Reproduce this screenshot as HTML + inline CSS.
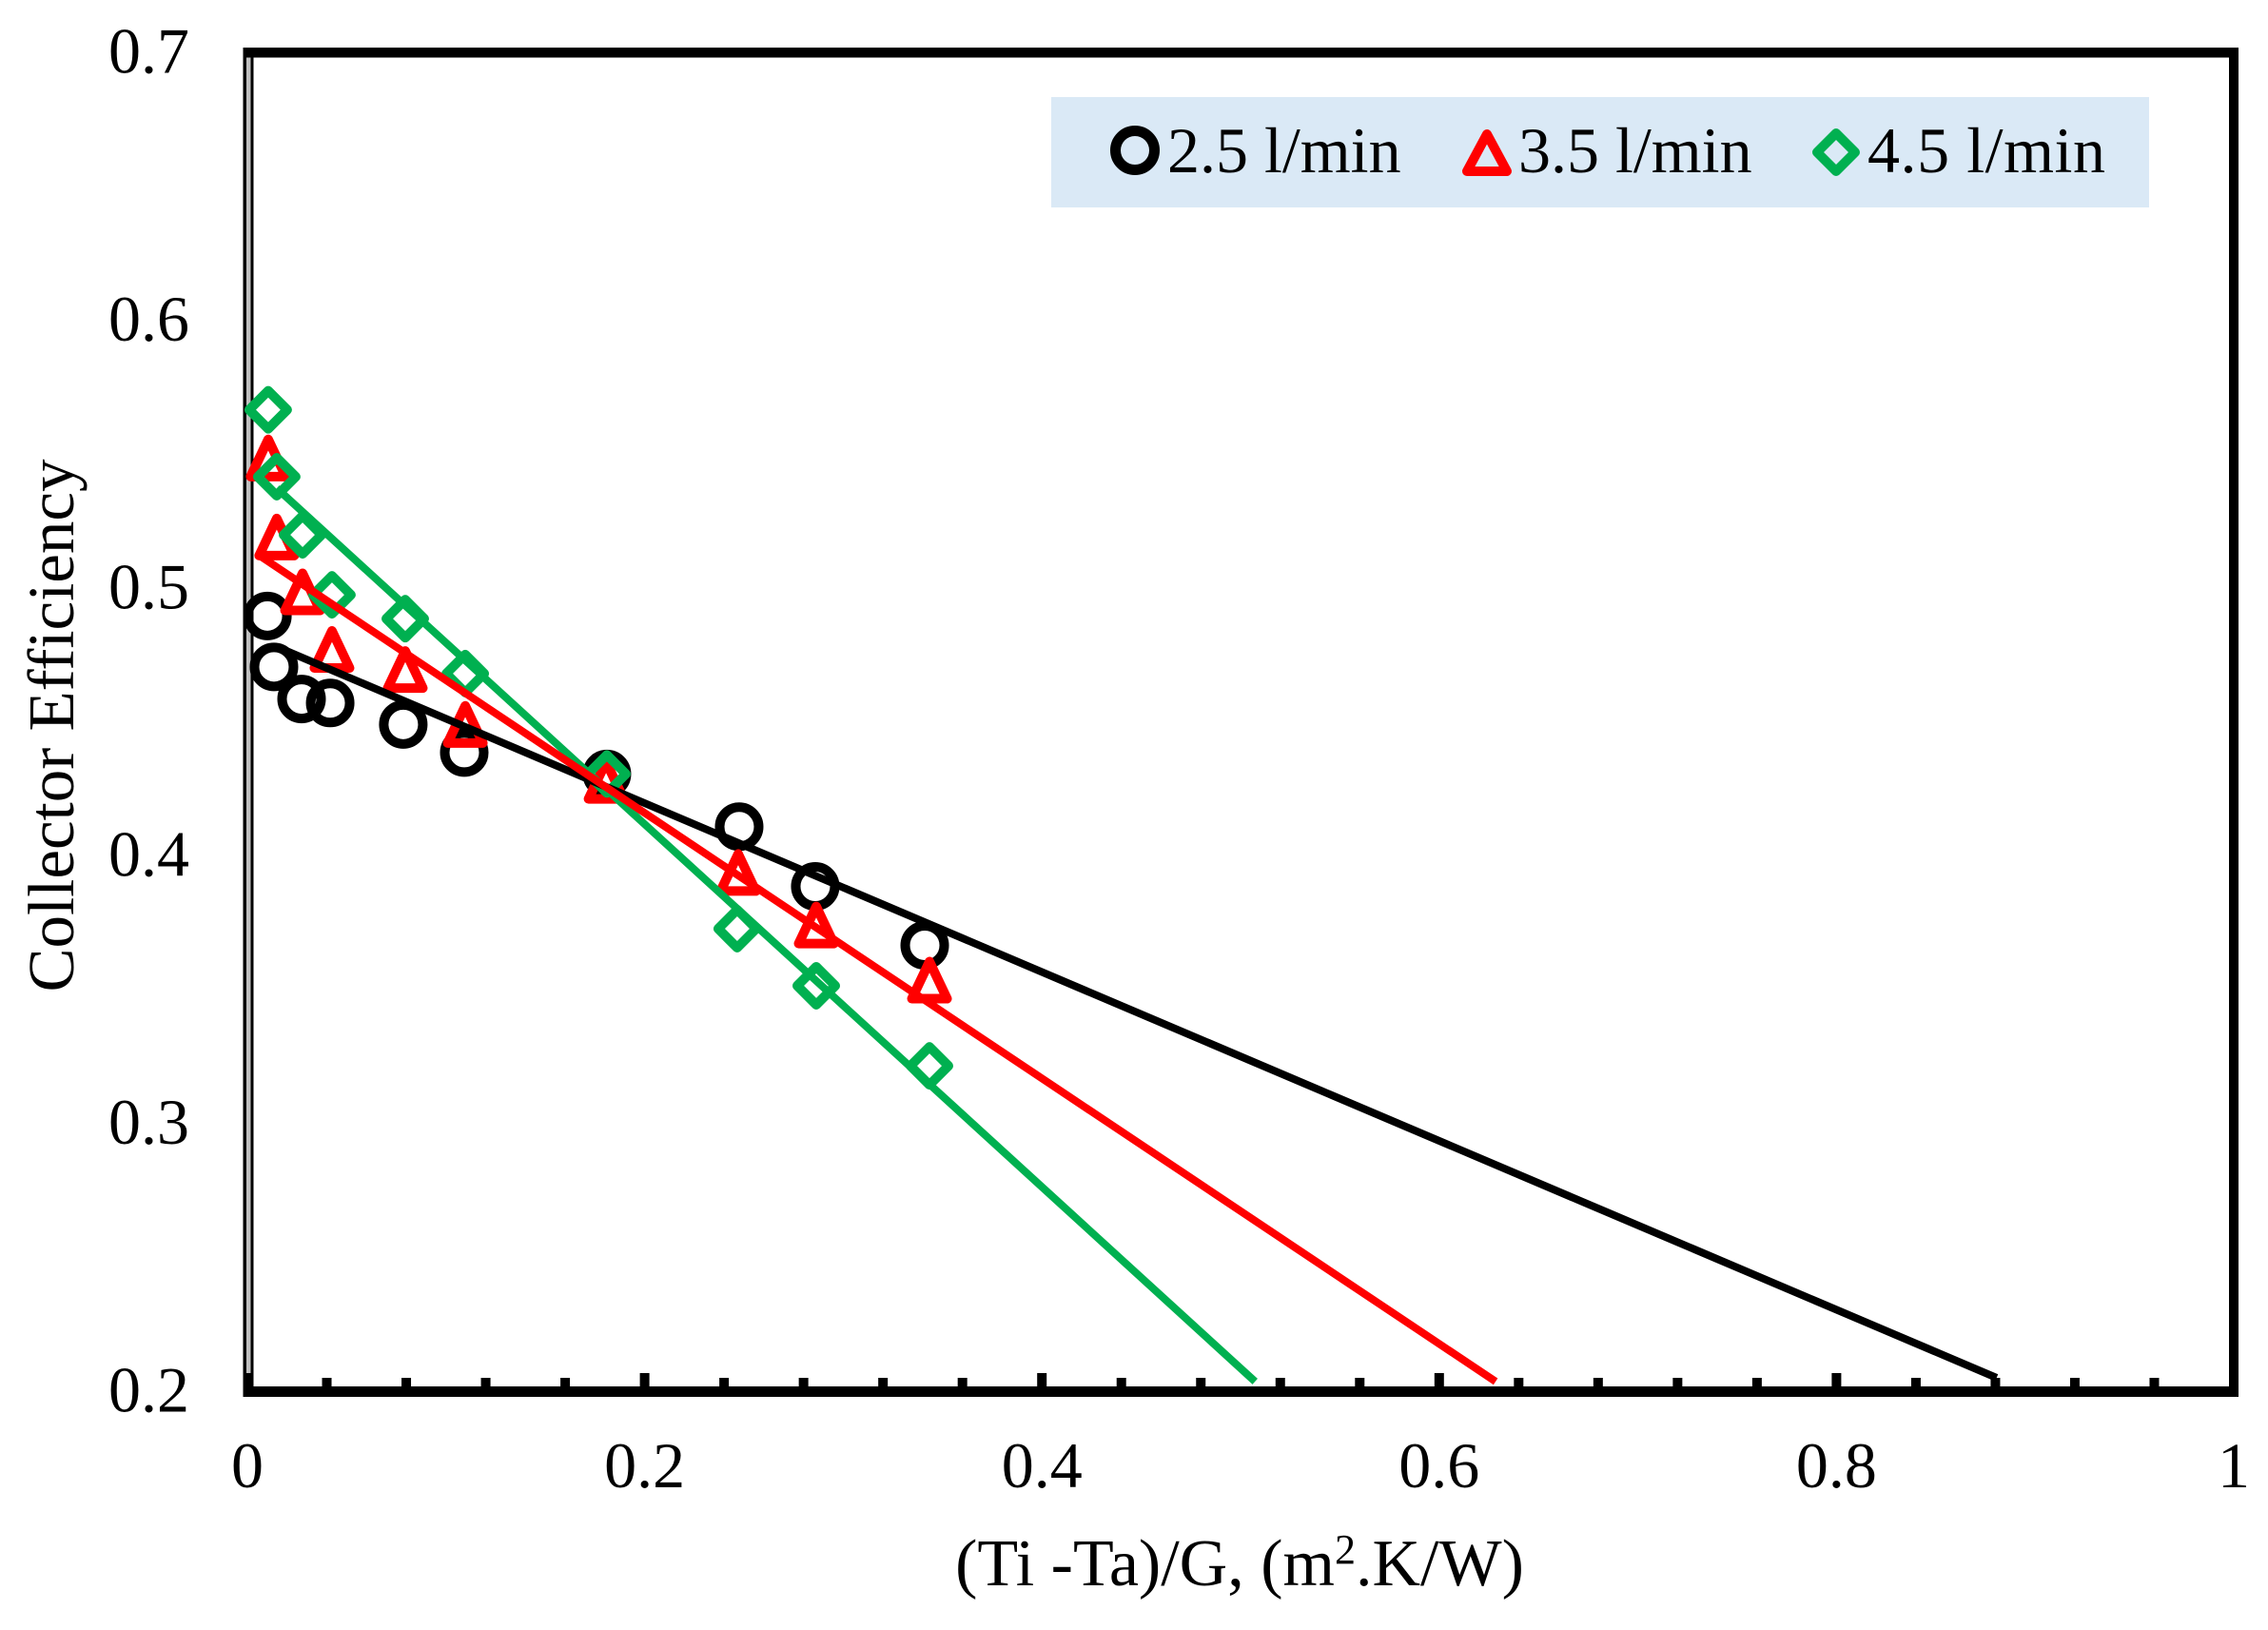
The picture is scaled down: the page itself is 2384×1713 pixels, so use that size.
<!DOCTYPE html>
<html lang="en">
<head>
<meta charset="utf-8">
<title>Collector Efficiency Chart</title>
<style>
html,body{margin:0;padding:0;background:#fff;}
svg{display:block;}
text{font-family:"Liberation Serif","Times New Roman",serif;fill:#000;font-size:68px;}
</style>
</head>
<body>
<svg id="chart" xmlns="http://www.w3.org/2000/svg" width="2384" height="1713" viewBox="0 0 2384 1713">
  <rect x="0" y="0" width="2384" height="1713" fill="#ffffff"/>
  <g id="frame">
    <rect x="255.5" y="50" width="11" height="1418" fill="#000"/>
    <rect x="259" y="60" width="4.5" height="1383" fill="#c0c0c0"/>
    <rect x="255.5" y="50" width="2097.5" height="10.5" fill="#000"/>
    <rect x="2343" y="50" width="10" height="1418" fill="#000"/>
    <rect x="255.5" y="1457" width="2097.5" height="11" fill="#000"/>
  </g>
  <g id="ticks"></g>
  <g id="marks"></g>
  <g id="lines"></g>
  <g id="labels"></g>
  <text transform="translate(77,762.5) rotate(-90)" text-anchor="middle" style="font-size:69px">Collector Efficiency</text>
  <text x="1303" y="1666" text-anchor="middle" style="font-size:70px">(Ti -Ta)/G, (m<tspan dy="-23" style="font-size:44px">2</tspan><tspan dy="23">.K/W)</tspan></text>
  <g>
    <rect x="1105" y="102" width="1154" height="116" fill="#dae9f6"/>
    <circle cx="1193" cy="158" r="20.5" fill="none" stroke="#000" stroke-width="11"/>
    <text x="1227" y="181">2.5 l/min</text>
    <path d="M1563 141 L1584 180 L1542 180 Z" fill="none" stroke="#ff0000" stroke-width="10" stroke-linejoin="round"/>
    <text x="1596" y="181">3.5 l/min</text>
    <path d="M1930 140 L1950 160 L1930 180 L1910 160 Z" fill="none" stroke="#00b050" stroke-width="10" stroke-linejoin="round"/>
    <text x="1963" y="181" textLength="250">4.5 l/min</text>
  </g>
</svg>
<script>
const xTickLabels = ["0", "0.2", "0.4", "0.6", "0.8", "1"];
const yTickLabels = ["0.2", "0.3", "0.4", "0.5", "0.6", "0.7"];

const x25 = [0.0101, 0.0134, 0.0273, 0.0417, 0.0785, 0.1092, 0.181, 0.2476, 0.2859, 0.341];
const y25 = [0.4895, 0.4705, 0.4585, 0.457, 0.449, 0.4385, 0.4305, 0.4108, 0.3885, 0.3665];
const x35 = [0.0105, 0.0148, 0.0278, 0.0426, 0.0795, 0.1097, 0.1806, 0.2471, 0.2864, 0.3434];
const y35 = [0.5485, 0.519, 0.4985, 0.477, 0.4695, 0.449, 0.4281, 0.3937, 0.3741, 0.3535];
const x45 = [0.0105, 0.0148, 0.0278, 0.0426, 0.0795, 0.1097, 0.181, 0.2466, 0.2864, 0.3434];
const y45 = [0.5665, 0.5415, 0.5198, 0.4974, 0.4885, 0.468, 0.4305, 0.3727, 0.3514, 0.3215];

const fitX25 = [0.0148, 0.8806];
const fitY25 = [0.478, 0.205];
const fitX35 = [0.0048, 0.6284];
const fitY35 = [0.5127, 0.2036];
const fitX45 = [0.0148, 0.5073];
const fitY45 = [0.5372, 0.2036];

const NS = 'http://www.w3.org/2000/svg';
function xScale(v) { return 260 + 2088 * v; }
function yScale(v) { return 55 + (0.7 - v) * 2814; }

const ticksG = document.getElementById('ticks');
const marksG = document.getElementById('marks');
const linesG = document.getElementById('lines');
const labelsG = document.getElementById('labels');

function make(tag, attrs, parent) {
  const el = document.createElementNS(NS, tag);
  for (const k in attrs) el.setAttribute(k, attrs[k]);
  parent.appendChild(el);
  return el;
}

for (let i = 1; i < 25; i++) {
  const major = i % 5 === 0;
  const top = major ? 1443 : 1448;
  const t = make('rect', { x: xScale(i * 0.04) - 5, y: top, width: 10, height: 1460 - top, fill: '#000' }, ticksG);
  
  
}

xTickLabels.forEach(function (label) {
  const t = make('text', { x: xScale(parseFloat(label)), y: 1563, 'text-anchor': 'middle' }, labelsG);
  t.textContent = label;
  
  
});
yTickLabels.forEach(function (label) {
  const t = make('text', { x: 199, y: yScale(parseFloat(label)) + 21.5, 'text-anchor': 'end' }, labelsG);
  t.textContent = label;
  
  
});

x25.forEach(function (v, i) {
  const c = make('circle', { cx: xScale(v), cy: yScale(y25[i]), r: 20.5, fill: 'none', stroke: '#000', 'stroke-width': 10 }, marksG);
  
  
});
x35.forEach(function (v, i) {
  const px = xScale(v), py = yScale(y35[i]);
  const d = 'M' + px + ' ' + (py - 19.5) + ' L' + (px + 18.5) + ' ' + (py + 19.5) + ' L' + (px - 18.5) + ' ' + (py + 19.5) + ' Z';
  const p = make('path', { d: d, fill: 'none', stroke: '#ff0000', 'stroke-width': 10, 'stroke-linejoin': 'round' }, marksG);
  
  
});
x45.forEach(function (v, i) {
  const px = xScale(v), py = yScale(y45[i]);
  const d = 'M' + px + ' ' + (py - 20) + ' L' + (px + 20) + ' ' + py + ' L' + px + ' ' + (py + 20) + ' L' + (px - 20) + ' ' + py + ' Z';
  const p = make('path', { d: d, fill: 'none', stroke: '#00b050', 'stroke-width': 10, 'stroke-linejoin': 'round' }, marksG);
  
  
});

const fitGreen = make('line', { x1: xScale(fitX45[0]), y1: yScale(fitY45[0]), x2: xScale(fitX45[1]), y2: yScale(fitY45[1]), stroke: '#00b050', 'stroke-width': 8 }, linesG);


const fitBlack = make('line', { x1: xScale(fitX25[0]), y1: yScale(fitY25[0]), x2: xScale(fitX25[1]), y2: yScale(fitY25[1]), stroke: '#000', 'stroke-width': 8 }, linesG);


const fitRed = make('line', { x1: xScale(fitX35[0]), y1: yScale(fitY35[0]), x2: xScale(fitX35[1]), y2: yScale(fitY35[1]), stroke: '#ff0000', 'stroke-width': 8 }, linesG);


</script>
</body>
</html>
